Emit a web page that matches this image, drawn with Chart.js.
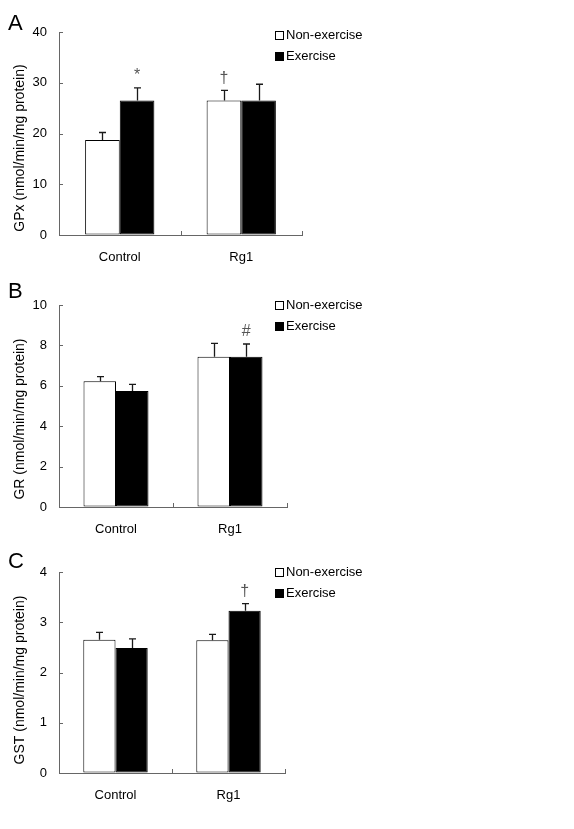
<!DOCTYPE html>
<html>
<head>
<meta charset="utf-8">
<title>GPx, GR and GST activity</title>
<script src="https://cdn.jsdelivr.net/npm/chart.js@4.4.0/dist/chart.umd.min.js"></script>
<style>
	html, body { margin: 0; padding: 0; background: #fff; }
	#wrap { position: relative; width: 574px; height: 829px; }
	canvas { position: absolute; left: 0; }
</style>
</head>
<body>
<div id="wrap">
	<canvas id="chartA" width="574" height="275" style="top:0;width:574px;height:275px"></canvas>
	<canvas id="chartB" width="574" height="270" style="top:275px;width:574px;height:270px"></canvas>
	<canvas id="chartC" width="574" height="284" style="top:545px;width:574px;height:284px"></canvas>
</div>
<script>
var categories = ['Control', 'Rg1'];
var seriesNames = ['Non-exercise', 'Exercise'];

// A - GPx
var gpxNonExercise = [18.7, 26.5];
var gpxExercise = [26.5, 26.5];
var gpxNonExerciseErr = [1.5, 2.0];
var gpxExerciseErr = [2.5, 3.2];
var gpxNonExerciseMarks = ['', '\u2020'];
var gpxExerciseMarks = ['*', ''];
var gpxTicks = [0, 10, 20, 30, 40];

// B - GR
var grNonExercise = [6.23, 7.44];
var grExercise = [5.74, 7.44];
var grNonExerciseErr = [0.22, 0.66];
var grExerciseErr = [0.33, 0.63];
var grNonExerciseMarks = ['', ''];
var grExerciseMarks = ['', '#'];
var grTicks = [0, 2, 4, 6, 8, 10];

// C - GST
var gstNonExercise = [2.65, 2.64];
var gstExercise = [2.49, 3.23];
var gstNonExerciseErr = [0.15, 0.12];
var gstExerciseErr = [0.18, 0.14];
var gstNonExerciseMarks = ['', ''];
var gstExerciseMarks = ['', '\u2020'];
var gstTicks = [0, 1, 2, 3, 4];

var FONT = '"Liberation Sans", Arial, sans-serif';

// error bars, inner ticks, marks, legend, titles
var panelDecor = {
	id: 'panelDecor',
	afterDatasetsDraw: function(chart, args, opts) {
		var ctx = chart.ctx;
		var yScale = chart.scales.y;
		var xScale = chart.scales.x;
		var area = chart.chartArea;
		ctx.save();

		chart.data.datasets.forEach(function(ds, i) {
			var meta = chart.getDatasetMeta(i);
			meta.data.forEach(function(bar, j) {
				var top = yScale.getPixelForValue(ds.data[j] + ds.errors[j]);
				var x = Math.round(bar.x) + 0.5;
				ctx.strokeStyle = '#1a1a1a';
				ctx.lineWidth = 1.3;
				ctx.beginPath();
				ctx.moveTo(x, bar.y);
				ctx.lineTo(x, top);
				ctx.moveTo(x - 3.5, top);
				ctx.lineTo(x + 3.5, top);
				ctx.stroke();
				if (ds.marks[j]) {
					ctx.fillStyle = '#555';
					ctx.font = '16px ' + FONT;
					ctx.textAlign = 'center';
					ctx.textBaseline = 'middle';
					ctx.fillText(ds.marks[j], bar.x, top - 12);
				}
			});
		});

		// tick marks pointing into the plot
		ctx.strokeStyle = '#666';
		ctx.lineWidth = 1;
		ctx.beginPath();
		yScale.ticks.forEach(function(t) {
			var y = Math.round(yScale.getPixelForValue(t.value)) + 0.5;
			ctx.moveTo(area.left, y);
			ctx.lineTo(area.left + 4, y);
		});
		for (var k = 1; k <= categories.length; k++) {
			var bx = Math.round(xScale.getPixelForValue(k - 0.5)) + 0.5;
			ctx.moveTo(bx, area.bottom);
			ctx.lineTo(bx, area.bottom - 4);
		}
		ctx.stroke();

		// legend
		ctx.font = '13px ' + FONT;
		ctx.textAlign = 'left';
		ctx.textBaseline = 'middle';
		chart.data.datasets.forEach(function(ds, i) {
			var cy = opts.legendTop + i * 21.5;
			ctx.fillStyle = ds.backgroundColor;
			ctx.fillRect(275, Math.round(cy - 4.5), 9, 9);
			ctx.strokeStyle = '#000';
			ctx.strokeRect(275.5, Math.round(cy - 4.5) + 0.5, 8, 8);
			ctx.fillStyle = '#000';
			ctx.fillText(ds.label, 286, cy);
		});

		// y axis title
		ctx.save();
		ctx.translate(20, opts.titleY);
		ctx.rotate(-Math.PI / 2);
		ctx.font = '14px ' + FONT;
		ctx.textAlign = 'center';
		ctx.fillStyle = '#000';
		ctx.fillText(opts.yTitle, 0, 0);
		ctx.restore();

		// panel letter
		ctx.font = '22px ' + FONT;
		ctx.textAlign = 'left';
		ctx.textBaseline = 'alphabetic';
		ctx.fillStyle = '#000';
		ctx.fillText(opts.letter, 8, opts.letterY);

		ctx.restore();
	}
};

function makePanel(id, p) {
	var ctx = document.getElementById(id);
	return new Chart(ctx, {
		type: 'bar',
		data: {
			labels: categories,
			datasets: [
				{
					label: seriesNames[0],
					data: p.nonExercise,
					errors: p.nonExerciseErr,
					marks: p.nonExerciseMarks,
					backgroundColor: '#ffffff',
					borderColor: '#000000',
					borderWidth: 1,
					borderSkipped: false
				},
				{
					label: seriesNames[1],
					data: p.exercise,
					errors: p.exerciseErr,
					marks: p.exerciseMarks,
					backgroundColor: '#000000',
					borderColor: '#000000',
					borderWidth: 1,
					borderSkipped: false
				}
			]
		},
		options: {
			responsive: false,
			animation: false,
			events: [],
			categoryPercentage: 0.57,
			barPercentage: 1.0,
			layout: {
				padding: { left: 0, top: p.top, right: p.right, bottom: 0 }
			},
			plugins: {
				legend: { display: false },
				tooltip: { enabled: false },
				panelDecor: {
					legendTop: p.legendTop,
					titleY: p.titleY,
					yTitle: p.yTitle,
					letter: p.letter,
					letterY: p.letterY
				}
			},
			scales: {
				x: {
					grid: { display: true, drawOnChartArea: false, drawTicks: false },
					border: { display: true, color: '#666', width: 1 },
					ticks: { color: '#000', padding: 15, font: { family: FONT, size: 13 } },
					afterFit: function(scale) { scale.height = p.xHeight; }
				},
				y: {
					min: p.ticks[0],
					max: p.ticks[p.ticks.length - 1],
					grid: { display: true, drawOnChartArea: false, drawTicks: false },
					border: { display: true, color: '#666', width: 1 },
					ticks: { color: '#000', padding: 12, font: { family: FONT, size: 13 } },
					afterBuildTicks: function(scale) {
						scale.ticks = p.ticks.map(function(v) { return { value: v }; });
					},
					afterFit: function(scale) { scale.width = 59; }
				}
			}
		},
		plugins: [panelDecor]
	});
}

makePanel('chartA', {
	nonExercise: gpxNonExercise, exercise: gpxExercise,
	nonExerciseErr: gpxNonExerciseErr, exerciseErr: gpxExerciseErr,
	nonExerciseMarks: gpxNonExerciseMarks, exerciseMarks: gpxExerciseMarks,
	ticks: gpxTicks, yTitle: 'GPx (nmol/min/mg protein)', letter: 'A',
	top: 32, right: 272, xHeight: 40, legendTop: 35, titleY: 148, letterY: 30
});

makePanel('chartB', {
	nonExercise: grNonExercise, exercise: grExercise,
	nonExerciseErr: grNonExerciseErr, exerciseErr: grExerciseErr,
	nonExerciseMarks: grNonExerciseMarks, exerciseMarks: grExerciseMarks,
	ticks: grTicks, yTitle: 'GR (nmol/min/mg protein)', letter: 'B',
	top: 30, right: 287, xHeight: 38, legendTop: 30, titleY: 144, letterY: 23
});

makePanel('chartC', {
	nonExercise: gstNonExercise, exercise: gstExercise,
	nonExerciseErr: gstNonExerciseErr, exerciseErr: gstExerciseErr,
	nonExerciseMarks: gstNonExerciseMarks, exerciseMarks: gstExerciseMarks,
	ticks: gstTicks, yTitle: 'GST (nmol/min/mg protein)', letter: 'C',
	top: 27, right: 289, xHeight: 56, legendTop: 27, titleY: 135, letterY: 23
});
</script>
</body>
</html>
